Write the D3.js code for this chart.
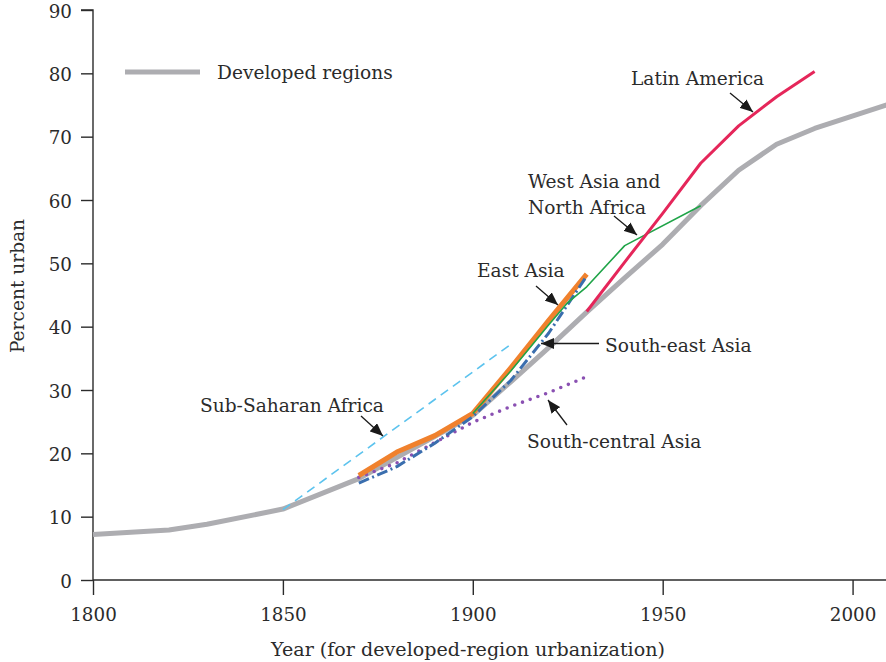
<!DOCTYPE html>
<html>
<head>
<meta charset="utf-8">
<script src="https://cdn.jsdelivr.net/npm/d3@7/dist/d3.min.js"></script>
<style>
  html, body { margin: 0; padding: 0; background: #fff; }
  svg text { font-family: "DejaVu Serif", serif; fill: #2b2b2b; }
</style>
</head>
<body>
<svg id="chart" width="886" height="662"></svg>
<script>
// Urbanization paths: percent urban by year
const developedYears  = [1800, 1820, 1830, 1850, 1870, 1900, 1910, 1920, 1930, 1940, 1950, 1960, 1970, 1980, 1990, 2010];
const developedValues = [7.2, 7.9, 8.8, 11.2, 16.0, 26.0, 31.3, 36.7, 42.3, 47.7, 53.0, 59.1, 64.7, 68.8, 71.3, 75.2];

const latinYears  = [1930, 1940, 1950, 1960, 1970, 1980, 1990];
const latinValues = [42.4, 50.2, 57.9, 65.8, 71.7, 76.3, 80.3];

const westAsiaYears  = [1900, 1910, 1920, 1925, 1930, 1940, 1960];
const westAsiaValues = [26.3, 33.0, 40.3, 43.8, 46.3, 52.8, 59.1];

const eastAsiaYears  = [1870, 1880, 1890, 1900, 1910, 1920, 1930];
const eastAsiaValues = [16.5, 20.2, 22.8, 26.3, 33.5, 41.0, 48.3];

const seAsiaYears  = [1870, 1880, 1890, 1900, 1910, 1920, 1930];
const seAsiaValues = [15.3, 17.9, 21.6, 25.8, 31.5, 39.0, 48.0];

const scAsiaYears  = [1870, 1880, 1890, 1900, 1910, 1920, 1930];
const scAsiaValues = [16.2, 18.5, 21.7, 24.9, 27.4, 29.6, 32.1];

const ssAfricaYears  = [1850, 1870, 1890, 1910];
const ssAfricaValues = [11.1, 19.8, 28.5, 37.2];

const xTicks = [1800, 1850, 1900, 1950, 2000];
const yTicks = [0, 10, 20, 30, 40, 50, 60, 70, 80, 90];

const svg = d3.select("#chart");
const margin = { left: 93, top: 10, right: 0, bottom: 82 };
const W = 886, H = 662;
const fontSize = "18.6px";

const x = d3.scaleLinear().domain([1800, 2008.8]).range([margin.left, W - margin.right]);
const y = d3.scaleLinear().domain([0, 90]).range([H - margin.bottom, margin.top]);

const zip = (xs, vs) => xs.map((d, i) => ({ year: d, value: vs[i] }));
const line = d3.line().x(d => x(d.year)).y(d => y(d.value));

// Axes
const axisColor = "#2b2b2b";
const gx = svg.append("g").attr("transform", `translate(0,${y(0)})`)
  .call(d3.axisBottom(x).tickValues(xTicks).tickFormat(d3.format("d")).tickSize(15).tickPadding(13));
const gy = svg.append("g").attr("transform", `translate(${x(1800)},0)`)
  .call(d3.axisLeft(y).tickValues(yTicks).tickSize(12).tickPadding(9));
[gx, gy].forEach(g => {
  g.select(".domain").attr("stroke", axisColor).attr("stroke-width", 1.4);
  g.selectAll(".tick line").attr("stroke", axisColor).attr("stroke-width", 1.4);
  g.selectAll(".tick text").style("font-family", "DejaVu Serif, serif")
    .style("font-size", "18.3px").attr("fill", "#2b2b2b");
});
gy.selectAll(".tick text").attr("dy", "0.4em");
gy.select(".domain").attr("d", `M0,${y(0)}V${y(90)}H-12`);
gx.select(".domain").attr("d", `M${x(1800)},0H${W}`);

svg.append("text")
  .attr("transform", `translate(24,286) rotate(-90)`)
  .attr("text-anchor", "middle").style("font-size", fontSize)
  .text("Percent urban");
svg.append("text")
  .attr("x", 468).attr("y", 656)
  .attr("text-anchor", "middle").style("font-size", "19.1px")
  .text("Year (for developed-region urbanization)");

const plot = svg.append("g");

// Series
const series = [
  { data: zip(developedYears, developedValues), color: "#adadb1", width: 5, dash: null, cap: "butt" },
  { data: zip(ssAfricaYears, ssAfricaValues), color: "#5cc3ee", width: 1.6, dash: "9,6", cap: "butt" },
  { data: zip(scAsiaYears, scAsiaValues), color: "#8a50b2", width: 3.6, dash: "0,8.2", cap: "round" },
  { data: zip(eastAsiaYears, eastAsiaValues), color: "#f0812d", width: 5, dash: null, cap: "butt" },
  { data: zip(seAsiaYears, seAsiaValues), color: "#3a6eae", width: 3, dash: "11,3.5,2,3.5", cap: "butt" },
  { data: zip(westAsiaYears, westAsiaValues), color: "#1fa448", width: 1.6, dash: null, cap: "butt" },
  { data: zip(latinYears, latinValues), color: "#e5265a", width: 3, dash: null, cap: "butt" }
];
series.forEach(s => {
  plot.append("path")
    .datum(s.data)
    .attr("d", line)
    .attr("fill", "none")
    .attr("stroke", s.color)
    .attr("stroke-width", s.width)
    .attr("stroke-linecap", s.cap)
    .attr("stroke-linejoin", "round")
    .attr("stroke-dasharray", s.dash);
});

// Legend for the developed-region line
svg.append("line").attr("x1", 125).attr("x2", 200).attr("y1", 72).attr("y2", 72)
  .attr("stroke", "#adadb1").attr("stroke-width", 5);
svg.append("text").attr("x", 217).attr("y", 79).style("font-size", fontSize).text("Developed regions");

// Region labels with arrows
svg.append("defs").append("marker")
  .attr("id", "head").attr("viewBox", "0 0 13 11").attr("refX", 13).attr("refY", 5.5)
  .attr("markerWidth", 13).attr("markerHeight", 11).attr("markerUnits", "userSpaceOnUse")
  .attr("orient", "auto")
  .append("path").attr("d", "M0,0L13,5.5L0,11Z").attr("fill", "#1a1a1a");

const notes = [
  { lines: ["Latin America"], x: 631, y: 85, from: [730, 93], to: [753, 112] },
  { lines: ["West Asia and", "North Africa"], x: 528, y: 188, from: [614, 216], to: [637, 235] },
  { lines: ["East Asia"], x: 477, y: 277, from: [536, 286], to: [558, 305] },
  { lines: ["South-east Asia"], x: 605, y: 352, from: [599, 343.5], to: [541, 343.5] },
  { lines: ["Sub-Saharan Africa"], x: 200, y: 412, from: [361, 416], to: [383, 436] },
  { lines: ["South-central Asia"], x: 527, y: 448, from: [567, 425], to: [548, 400] }
];
notes.forEach(n => {
  const t = svg.append("text").attr("x", n.x).attr("y", n.y).style("font-size", fontSize);
  n.lines.forEach((s, i) => t.append("tspan").attr("x", n.x).attr("dy", i ? 26 : 0).text(s));
  svg.append("line")
    .attr("x1", n.from[0]).attr("y1", n.from[1]).attr("x2", n.to[0]).attr("y2", n.to[1])
    .attr("stroke", "#1a1a1a").attr("stroke-width", 1.3)
    .attr("marker-end", "url(#head)");
});
</script>
</body>
</html>
